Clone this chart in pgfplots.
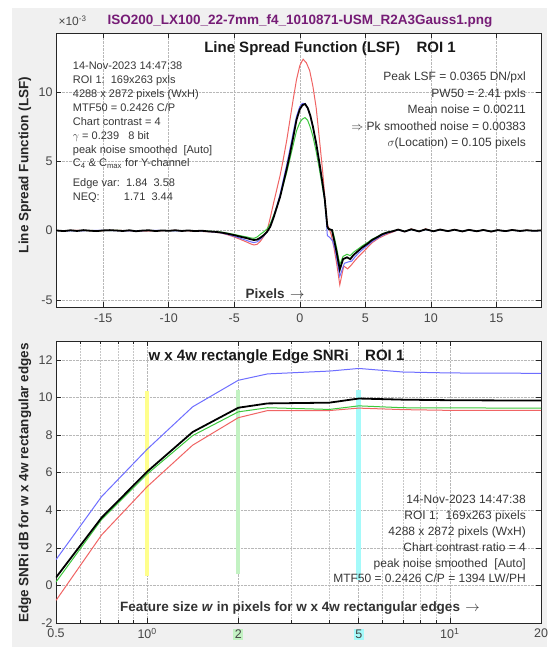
\documentclass[border=0pt]{standalone}
\usepackage{pgfplots}
\pgfplotsset{compat=1.18}
\usepackage{fontspec}
\setmainfont{Liberation Sans}
\definecolor{figgrey}{RGB}{240,240,240}
\definecolor{ttl}{RGB}{118,28,118}
\definecolor{axgrey}{RGB}{38,38,38}
\definecolor{tickgrey}{RGB}{70,70,70}
\definecolor{txt}{RGB}{55,55,55}
\definecolor{lred}{RGB}{240,100,100}
\definecolor{lblue}{RGB}{110,110,255}
\definecolor{lgreen}{RGB}{60,200,60}
\definecolor{bandyellow}{RGB}{255,255,140}
\definecolor{bandgreen}{RGB}{195,242,195}
\definecolor{bandcyan}{RGB}{165,250,250}
\newcommand{\fs}[1]{\fontsize{#1}{#1}\selectfont}
\begin{document}
\begin{tikzpicture}
\fill[white] (0pt,0pt) rectangle (547pt,647pt);
\fill[figgrey] (12pt,0pt) rectangle (547pt,639pt);
\useasboundingbox (0pt,0pt) rectangle (547pt,647pt);

% ---------------- top axis: LSF ----------------
\begin{axis}[
  at={(56pt,340pt)}, anchor=south west, scale only axis,
  width=485pt, height=274pt,
  xmin=-18.6, xmax=18.4, ymin=-5.5, ymax=14.25,
  xtick={-15,-10,-5,0,5,10,15}, ytick={-5,0,5,10},
  grid=major, grid style={densely dotted, black!28, line width=0.5pt},
  axis line style={axgrey, line width=0.6pt},
  tick style={axgrey, line width=0.5pt}, tick align=inside, major tick length=5pt,
  ticklabel style={font=\fs{12.5}, text=tickgrey},
  xticklabel style={yshift=-3pt},
  /pgf/number format/assume math mode=true,
  axis background/.style={fill=white},
]
\addplot[lred, line width=1pt] coordinates {
(-18.6,0.0) (-17,0.02) (-15.5,-0.02) (-14,0.03) (-12.5,-0.03) (-11,-0.02) (-9.5,0.02) (-8,-0.04) (-7,-0.07) (-6.5,-0.11) (-6,-0.17) (-5.5,-0.3) (-5,-0.45) (-4.5,-0.64) (-4,-0.84) (-3.75,-0.95) (-3.5,-1.03) (-3.25,-0.98) (-3,-0.75) (-2.75,-0.42) (-2.5,0.0) (-2.25,0.95) (-2,2.0) (-1.75,3.0) (-1.5,4.0) (-1.25,5.2) (-1,6.5) (-0.75,8.0) (-0.5,9.5) (-0.25,10.9) (0,11.9) (0.25,12.36) (0.5,12.1) (0.75,11.55) (1,10.4) (1.25,8.85) (1.5,6.55) (1.75,4.2) (1.9,2.5) (2.0,1.4) (2.1,0.45) (2.25,0.1) (2.4,-0.3) (2.6,-1.2) (2.8,-2.3) (3.05,-3.9) (3.35,-2.55) (3.65,-2.75) (3.95,-2.45) (4.25,-2.1) (4.5,-1.85) (5,-1.38) (5.25,-1.12) (5.5,-0.88) (6,-0.55) (6.5,-0.32) (6.8,-0.2) (7.3,-0.02) (7.5,0.1) (8,-0.08) (8.5,0.13) (9.1,-0.07) (9.6,0.13) (10.2,-0.06) (10.7,0.1) (11.3,-0.05) (11.8,0.09) (12.4,-0.07) (12.9,0.08) (13.5,-0.06) (14,0.07) (14.6,-0.08) (15.1,0.06) (15.7,-0.05) (16.2,0.07) (16.8,-0.04) (17.3,0.05) (17.9,-0.02) (18.4,0.03)
};
\addplot[lgreen, line width=1pt] coordinates {
(-18.6,0.0) (-17,0.01) (-15.5,-0.01) (-14,0.02) (-12.5,-0.01) (-11,0.01) (-9.5,0.0) (-8,0.01) (-7,-0.03) (-6.5,-0.06) (-6,-0.1) (-5.5,-0.18) (-5,-0.27) (-4.5,-0.37) (-4,-0.46) (-3.75,-0.52) (-3.5,-0.55) (-3.25,-0.45) (-3,-0.25) (-2.75,-0.08) (-2.5,0.12) (-2.25,0.5) (-2,1.1) (-1.75,1.75) (-1.5,2.5) (-1.25,3.35) (-1,4.2) (-0.75,5.2) (-0.5,6.2) (-0.25,7.2) (0,7.8) (0.2,8.05) (0.4,8.15) (0.6,7.95) (0.8,7.45) (1,6.8) (1.25,5.7) (1.5,4.4) (1.75,3.0) (1.9,2.2) (2.0,1.1) (2.1,0.2) (2.3,0.1) (2.5,0.0) (2.65,-0.55) (2.8,-1.2) (3.05,-2.45) (3.3,-1.85) (3.6,-1.7) (3.85,-1.8) (4.1,-1.55) (4.5,-1.28) (4.75,-1.1) (5,-0.95) (5.25,-0.8) (5.5,-0.62) (6,-0.38) (6.3,-0.22) (6.7,-0.1) (7.05,-0.04) (7.5,0.07) (8,-0.05) (8.5,0.09) (9.1,-0.05) (9.6,0.09) (10.2,-0.04) (10.7,0.07) (11.3,-0.03) (11.8,0.06) (12.4,-0.05) (12.9,0.05) (13.5,-0.04) (14,0.05) (14.6,-0.05) (15.1,0.04) (15.7,-0.03) (16.2,0.04) (16.8,-0.02) (17.3,0.03) (17.9,-0.01) (18.4,0.02)
};
\addplot[lblue, line width=1pt] coordinates {
(-18.6,0.01) (-17,-0.02) (-15.5,0.02) (-14,0.0) (-12.5,-0.02) (-11,0.02) (-9.5,-0.01) (-8,0.01) (-7,-0.06) (-6.5,-0.1) (-6,-0.16) (-5.5,-0.27) (-5,-0.4) (-4.5,-0.56) (-4,-0.72) (-3.75,-0.8) (-3.5,-0.86) (-3.25,-0.8) (-3,-0.6) (-2.75,-0.38) (-2.5,-0.1) (-2.25,0.3) (-2,1.0) (-1.75,1.8) (-1.5,2.65) (-1.25,3.7) (-1,4.75) (-0.75,5.9) (-0.5,7.1) (-0.25,8.25) (0,8.95) (0.2,9.18) (0.4,9.15) (0.6,8.85) (0.8,8.25) (1,7.45) (1.25,6.2) (1.5,4.75) (1.75,3.2) (1.9,2.2) (2.0,1.1) (2.1,-0.35) (2.3,-0.5) (2.5,-0.75) (2.7,-1.4) (2.85,-2.2) (3.05,-3.3) (3.4,-2.35) (3.7,-2.25) (3.95,-2.2) (4.2,-1.9) (4.5,-1.6) (5,-1.18) (5.25,-1.0) (5.5,-0.8) (6,-0.5) (6.3,-0.33) (6.7,-0.17) (7.05,-0.07) (7.5,0.06) (8,-0.07) (8.5,0.08) (9.1,-0.06) (9.6,0.08) (10.2,-0.05) (10.7,0.07) (11.3,-0.04) (11.8,0.06) (12.4,-0.05) (12.9,0.05) (13.5,-0.05) (14,0.04) (14.6,-0.06) (15.1,0.04) (15.7,-0.04) (16.2,0.04) (16.8,-0.03) (17.3,0.03) (17.9,-0.02) (18.4,0.01)
};
\addplot[black, line width=1.8pt] coordinates {
(-18.6,0.02) (-18,-0.03) (-17.5,0.03) (-17,-0.02) (-16.5,0.04) (-16,0.0) (-15.5,-0.03) (-15,0.02) (-14.5,0.04) (-14,0.01) (-13.5,-0.02) (-13,0.03) (-12.5,-0.04) (-12,0.01) (-11.5,0.03) (-11,-0.03) (-10.5,0.02) (-10,-0.01) (-9.5,0.03) (-9,-0.02) (-8.5,0.02) (-8,-0.03) (-7.5,0.0) (-7,-0.05) (-6.5,-0.08) (-6,-0.13) (-5.5,-0.22) (-5,-0.32) (-4.5,-0.44) (-4,-0.55) (-3.75,-0.62) (-3.5,-0.67) (-3.25,-0.64) (-3,-0.5) (-2.75,-0.32) (-2.5,-0.08) (-2.25,0.3) (-2,0.95) (-1.75,1.7) (-1.5,2.45) (-1.25,3.45) (-1,4.45) (-0.75,5.55) (-0.5,6.75) (-0.25,8.0) (0,8.75) (0.2,9.05) (0.4,9.13) (0.6,8.85) (0.8,8.3) (1,7.5) (1.25,6.3) (1.5,4.86) (1.75,3.3) (1.9,2.3) (2.0,1.3) (2.1,0.3) (2.2,0.12) (2.45,0.05) (2.6,-0.6) (2.8,-1.5) (3.05,-2.8) (3.3,-2.05) (3.6,-1.92) (3.85,-2.05) (4.1,-1.75) (4.5,-1.42) (4.75,-1.22) (5,-1.05) (5.25,-0.88) (5.5,-0.68) (6,-0.42) (6.3,-0.25) (6.7,-0.12) (7.05,-0.05) (7.5,0.08) (8,-0.06) (8.5,0.1) (9.1,-0.05) (9.6,0.1) (10.2,-0.04) (10.7,0.08) (11.3,-0.03) (11.8,0.07) (12.4,-0.05) (12.9,0.06) (13.5,-0.04) (14,0.05) (14.6,-0.06) (15.1,0.04) (15.7,-0.03) (16.2,0.05) (16.8,-0.02) (17.3,0.03) (17.9,-0.01) (18.4,0.02)
};
\end{axis}

% ---------------- bottom axis: Edge SNRi ----------------
\begin{axis}[
  at={(56pt,24pt)}, anchor=south west, scale only axis,
  width=485pt, height=282pt,
  xmode=log, xmin=0.5, xmax=20, ymin=-2, ymax=13,
  xtick={0.5,1,2,5,10,20},
  xticklabels={0.5,{10\textsuperscript{0}},{\setlength{\fboxsep}{1.5pt}\colorbox{bandgreen}{2}},{\setlength{\fboxsep}{1.5pt}\colorbox{bandcyan}{5}},{10\textsuperscript{1}},20},
  minor xtick={0.6,0.7,0.8,0.9,3,4,6,7,8,9},
  ytick={-2,0,2,4,6,8,10,12},
  xmajorgrids, xminorgrids, ymajorgrids,
  grid style={densely dotted, black!28, line width=0.5pt},
  minor grid style={densely dotted, black!22, line width=0.5pt},
  axis line style={axgrey, line width=0.6pt},
  tick style={axgrey, line width=0.5pt}, tick align=inside,
  major tick length=5pt, minor tick length=3pt,
  ticklabel style={font=\fs{12.5}, text=tickgrey},
  xticklabel style={yshift=-2pt},
  /pgf/number format/assume math mode=true,
  axis background/.style={fill=white},
]
\addplot[bandyellow, line width=4pt] coordinates {(1,0.5) (1,10.35)};
\addplot[bandgreen, line width=4.2pt] coordinates {(2,0.6) (2,10.4)};
\addplot[bandcyan, line width=4.5pt] coordinates {(5,0.3) (5,10.4)};
\addplot[lred, line width=1pt] coordinates {
(0.5,-0.8) (0.707,2.68) (1,5.25) (1.414,7.46) (2,8.92) (2.5,9.3) (4,9.3) (5,9.43) (7,9.35) (10,9.31) (20,9.31)
};
\addplot[lgreen, line width=1pt] coordinates {
(0.5,0.18) (0.707,3.5) (1,5.92) (1.414,7.97) (2,9.23) (2.5,9.45) (4,9.36) (5,9.55) (7,9.45) (10,9.44) (20,9.43)
};
\addplot[lblue, line width=1pt] coordinates {
(0.5,1.37) (0.707,4.72) (1,7.24) (1.414,9.5) (2,10.91) (2.5,11.25) (4,11.4) (5,11.54) (7,11.35) (10,11.3) (20,11.28)
};
\addplot[black, line width=1.8pt] coordinates {
(0.5,0.42) (0.707,3.6) (1,6.05) (1.414,8.16) (2,9.45) (2.5,9.68) (4,9.72) (5,9.94) (7,9.88) (10,9.85) (20,9.83)
};
\end{axis}

% ---------------- titles and labels ----------------
\node[anchor=west, text=tickgrey, font=\fs{12}] at (55pt,626pt) {×10\textsuperscript{-3}};
\node[text=ttl, font=\bfseries\fs{13.5}] at (300pt,626pt) {ISO200\_LX100\_22-7mm\_f4\_1010871-USM\_R2A3Gauss1.png};
\node[text=black!90, font=\bfseries\fs{15}] at (330pt,598pt) {Line Spread Function (LSF)\hspace{1.1em}ROI 1};
\node[text=black!80, font=\bfseries\fs{13.5}] at (275pt,353pt) {Pixels\hspace{0.4em}$\rightarrow$};
\node[text=black!85, rotate=90, font=\bfseries\fs{13.5}] at (25pt,482pt) {Line Spread Function (LSF)};

\node[text=black!90, font=\bfseries\fs{15}] at (276.5pt,290pt) {w x 4w rectangle Edge SNRi\hspace{1.1em}ROI 1};
\node[text=black!80, font=\bfseries\fs{13.5}] at (300pt,39pt) {Feature size \textit{w} in pixels for w x 4w rectangular edges\hspace{0.4em}$\rightarrow$};
\node[text=black!85, rotate=90, font=\bfseries\fs{13.5}] at (25pt,164pt) {Edge SNRi dB for w x 4w rectangular edges};

% left info box (top)
\begin{scope}[every node/.style={anchor=base west, text=txt, font=\fs{11}, inner sep=0pt}]
\node at (72.7pt,577.3pt) {14-Nov-2023 14:47:38};
\node at (72.7pt,563pt) {ROI 1:\ \ 169x263 pxls};
\node at (72.7pt,549pt) {4288 x 2872 pixels (WxH)};
\node at (72.7pt,535pt) {MTF50 = 0.2426 C/P};
\node at (72.7pt,521.3pt) {Chart contrast = 4};
\node at (72.7pt,507pt) {$\gamma$ = 0.239\ \ \ 8 bit};
\node at (72.7pt,493pt) {peak noise smoothed\ \ [Auto]};
\node at (72.7pt,480pt) {C\textsubscript{4} \& C\textsubscript{max} for Y-channel};
\node at (72.7pt,460pt) {Edge var:\ \ 1.84\ \ 3.58};
\node at (72.7pt,446.3pt) {NEQ:\hspace{2.2em}1.71\ \ 3.44};
\end{scope}

% right info box (top)
\begin{scope}[every node/.style={anchor=base east, text=txt, font=\fs{12}, inner sep=0pt}]
\node at (526pt,566.6pt) {Peak LSF = 0.0365 DN/pxl};
\node at (526pt,549.9pt) {PW50 = 2.41 pxls};
\node at (526pt,533.3pt) {Mean noise = 0.00211};
\node at (526pt,516.6pt) {$\Rightarrow$ Pk smoothed noise = 0.00383};
\node at (526pt,500.9pt) {$\sigma$(Location) = 0.105 pixels};
\end{scope}

% info box (bottom)
\begin{scope}[every node/.style={anchor=base east, text=txt, font=\fs{12}, inner sep=0pt}]
\node at (526pt,143.3pt) {14-Nov-2023 14:47:38};
\node at (526pt,127.6pt) {ROI 1:\ \ 169x263 pixels};
\node at (526pt,111.6pt) {4288 x 2872 pixels (WxH)};
\node at (526pt,95.9pt) {Chart contrast ratio = 4};
\node at (526pt,79.9pt) {peak noise smoothed\ \ [Auto]};
\node at (526pt,64.3pt) {MTF50 = 0.2426 C/P = 1394 LW/PH};
\end{scope}
\end{tikzpicture}
\end{document}
